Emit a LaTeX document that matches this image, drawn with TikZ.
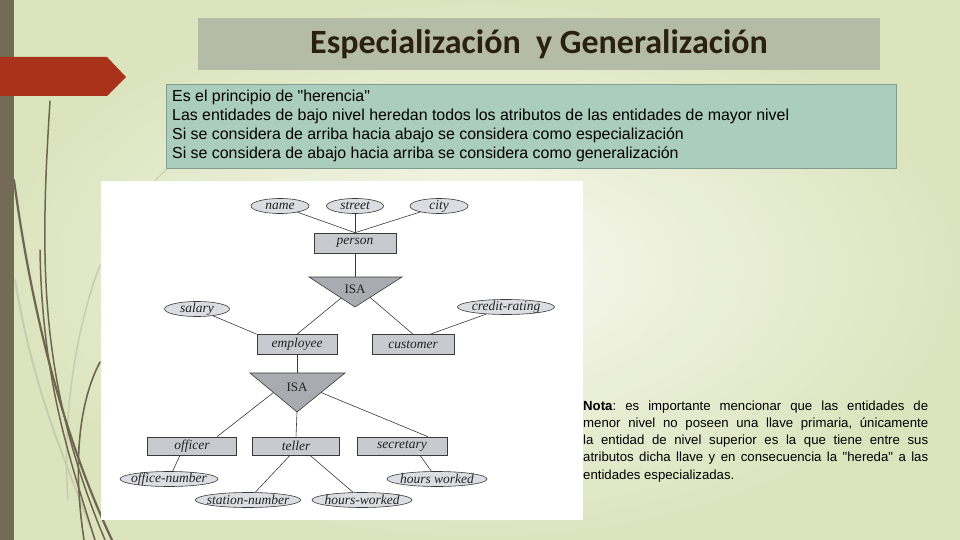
\documentclass[tikz,border=0pt]{standalone}
\usepackage{fontspec}
\usetikzlibrary{shapes.geometric,calc}
\newfontfamily\arialf{Liberation Sans}
\newfontfamily\calibrif{Carlito}
\newfontfamily\erf{Liberation Serif}
\definecolor{bgin}{HTML}{F8F9F0}
\definecolor{bgout}{HTML}{DCE4BE}
\definecolor{barc}{HTML}{736B55}
\definecolor{strandc}{HTML}{6E6650}
\definecolor{palec}{HTML}{C8CDB0}
\definecolor{redc}{HTML}{A8321A}
\definecolor{titlefill}{HTML}{B4BCA8}
\definecolor{titletext}{HTML}{2A1F10}
\definecolor{infofill}{HTML}{ABCDBD}
\definecolor{infoline}{HTML}{7F9E8E}
\definecolor{entfill}{HTML}{C8CAD0}
\definecolor{isafill}{HTML}{A9ABB1}
\definecolor{attrfill}{HTML}{DCDDE2}
\definecolor{erline}{HTML}{3A3A3A}
\definecolor{ertext}{HTML}{222222}
\tikzset{
  ent/.style={draw=erline, fill=entfill, line width=0.6pt, inner sep=0pt, minimum height=20pt, text=ertext, font=\erf\fontsize{13.5}{14}\selectfont\itshape},
  attr/.style={ellipse, draw=erline, fill=attrfill, line width=0.6pt, inner xsep=-4pt, inner ysep=-2.5pt, minimum height=15pt, text=ertext, font=\erf\fontsize{13.5}{14}\selectfont\itshape},
  isatext/.style={inner sep=0pt, text=ertext, font=\erf\fontsize{13}{14}\selectfont},
  link/.style={draw=erline, line width=0.6pt},
  infoline/.style={anchor=base west, inner sep=0pt, font=\arialf\fontsize{15.9}{17}\selectfont},
  notaline/.style={anchor=base west, inner sep=0pt, font=\arialf\fontsize{13.2}{15}\selectfont\frenchspacing},
  strand/.style={draw=strandc, line cap=round},
  palestrand/.style={draw=palec, line cap=round}
}
\begin{document}
\begin{tikzpicture}[x=1pt,y=-1pt]
\useasboundingbox (0,0) rectangle (960,540);
% background
\shade[inner color=bgin, outer color=bgout] (0,0) rectangle (960,540);
% decorative strands
\draw[palestrand, line width=2pt] (15,280) .. controls (35,400) and (70,470) .. (95,540);
\draw[palestrand, line width=1.5pt] (100,265) .. controls (75,330) and (62,420) .. (68,500);
\draw[palestrand, line width=1pt] (168,168) .. controls (160,175) and (150,185) .. (145,195);
\draw[strand, line width=1.5pt] (50,101) .. controls (40,260) and (38,380) .. (105,540);
\draw[strand, line width=2.2pt] (14,180) .. controls (30,300) and (60,430) .. (112,540);
\draw[strand, line width=1.5pt] (40,250) .. controls (42,380) and (70,460) .. (95,540);
\draw[strand, line width=1.6pt] (100,362) .. controls (80,400) and (72,460) .. (84,540);
% left bar
\fill[barc] (0,0) rectangle (14,540);
% red arrow
\fill[redc] (0,57) -- (107,57) -- (126,77) -- (107,96) -- (0,96) -- cycle;
% title
\node[fill=titlefill, minimum width=682pt, minimum height=52pt, inner sep=0pt] (titlebox) at (539,44) {};
\node[font=\calibrif\bfseries\fontsize{34}{36}\selectfont, text=titletext, inner sep=0pt] (title) at (539,44) {Especialización\ \ y Generalización};
% info box
\node[draw=infoline, fill=infofill, line width=0.8pt, minimum width=730pt, minimum height=84pt, inner sep=0pt] (infobox) at (531,126) {};
\node[infoline] (l1) at (172,102) {Es el principio de "herencia"};
\node[infoline] (l2) at (172,121) {Las entidades de bajo nivel heredan todos los atributos de las entidades de mayor nivel};
\node[infoline] (l3) at (172,140) {Si se considera de arriba hacia abajo se considera como especialización};
\node[infoline] (l4) at (172,159) {Si se considera de abajo hacia arriba se considera como generalización};
% ER picture
\node[fill=white, minimum width=482pt, minimum height=339pt, inner sep=0pt] (erpic) at (342,350.5) {};
% attributes of person
\node[attr, minimum width=58pt] (name) at (280,206) {name};
\node[attr, minimum width=57pt] (street) at (355,206) {street};
\node[attr, minimum width=58pt] (city) at (439,206) {city};
\node[ent, minimum width=82pt] (person) at (355,243) {person};
% ISA 1
\coordinate (t1a) at (309,277);
\coordinate (t1b) at (402,277);
\coordinate (t1c) at (355,307);
\fill[isafill, draw=erline, line width=0.6pt] (t1a) -- (t1b) -- (t1c) -- cycle;
\node[isatext] (isa1) at (355,289) {ISA};
\coordinate (t1l) at ($(t1a)!0.7!(t1c)$);
\coordinate (t1r) at ($(t1b)!0.68!(t1c)$);
\node[attr, minimum width=65pt] (salary) at (197,309) {salary};
\node[attr, minimum width=97pt] (credit) at (506,307) {credit-rating};
\node[ent, minimum width=80pt] (employee) at (297,344.5) {employee};
\node[ent, minimum width=82pt] (customer) at (413,344.5) {customer};
% ISA 2
\coordinate (t2a) at (250,373);
\coordinate (t2b) at (345,373);
\coordinate (t2c) at (297,412);
\fill[isafill, draw=erline, line width=0.6pt] (t2a) -- (t2b) -- (t2c) -- cycle;
\node[isatext] (isa2) at (297,387) {ISA};
\coordinate (t2l) at ($(t2a)!0.5!(t2c)$);
\coordinate (t2r) at ($(t2b)!0.5!(t2c)$);
\node[ent, minimum width=89pt, minimum height=18pt] (officer) at (192,446) {officer};
\node[ent, minimum width=87pt, minimum height=18pt] (teller) at (296,446) {teller};
\node[ent, minimum width=90pt, minimum height=18pt] (secretary) at (402,446) {secretary};
\node[attr, minimum width=98pt] (officenum) at (169,479) {office-number};
\node[attr, minimum width=100pt] (hoursr) at (437,479) {hours worked};
\node[attr, minimum width=99pt] (station) at (248,500) {station-number};
\node[attr, minimum width=100pt] (hoursb) at (362,500) {hours-worked};
% connectors
\draw[link] (name) -- (person.north);
\draw[link] (street) -- (person.north);
\draw[link] (city) -- (person.north);
\draw[link] (person) -- (isa1 |- t1a);
\draw[link] (t1l) -- (employee.north);
\draw[link] (t1r) -- (customer.north);
\draw[link] (salary) -- (employee.north west);
\draw[link] (credit) -- ([xshift=-24pt]customer.north east);
\draw[link] (employee) -- (isa2 |- t2a);
\draw[link] (t2l) -- ([xshift=25pt]officer.north);
\draw[link] (t2c) -- (teller.north);
\draw[link] (t2r) -- ([xshift=26pt]secretary.north);
\draw[link] ([xshift=-12pt]officer.south) -- (officenum);
\draw[link] ([xshift=-6pt]teller.south) -- (station);
\draw[link] ([xshift=14pt]teller.south) -- (hoursb);
\draw[link] ([xshift=18pt]secretary.south) -- (hoursr);
% nota
\node[notaline] (n1) at (583,410) {\makebox[345pt][s]{\textbf{Nota}: es importante mencionar que las entidades de}};
\node[notaline] (n2) at (583,427.3) {\makebox[345pt][s]{menor nivel no poseen una llave primaria, únicamente}};
\node[notaline] (n3) at (583,444.6) {\makebox[345pt][s]{la entidad de nivel superior es la que tiene entre sus}};
\node[notaline] (n4) at (583,461.9) {\makebox[345pt][s]{atributos dicha llave y en consecuencia la "hereda" a las}};
\node[notaline] (n5) at (583,479.2) {entidades especializadas.};
\end{tikzpicture}
\end{document}
